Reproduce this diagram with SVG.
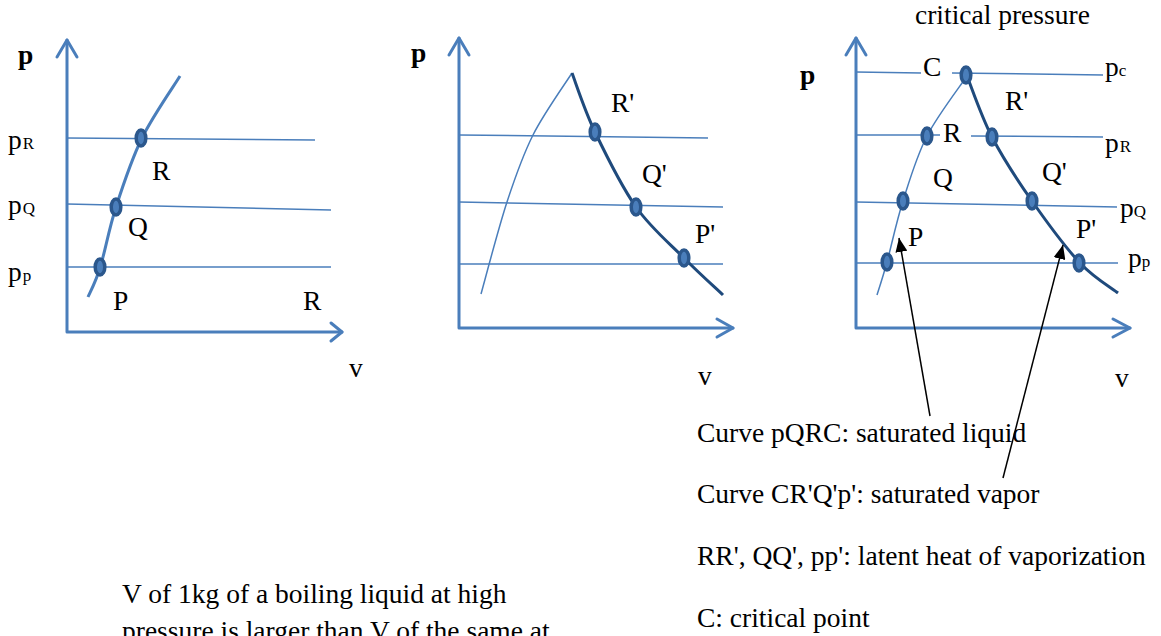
<svg xmlns="http://www.w3.org/2000/svg" width="1161" height="636" viewBox="0 0 1161 636">
<defs>
<style>
text{font-family:"Liberation Serif","Times New Roman",serif;font-size:27.5px;fill:#000}
.b{font-weight:bold}
.sub{font-size:17px}
.axis{fill:none;stroke:#4A7EBB;stroke-width:3;stroke-linecap:round;stroke-linejoin:round}
.iso{fill:none;stroke:#4A7EBB;stroke-width:1.5}
.liq{fill:none;stroke:#4A7EBB;stroke-width:1.5}
.liq1{fill:none;stroke:#4A7EBB;stroke-width:3}
.vap{fill:none;stroke:#1F4A7C;stroke-width:3}
.dot{fill:#4A7EBB;stroke:#2B578C;stroke-width:3.5}
.arr{fill:none;stroke:#000;stroke-width:1.5}
</style>
<marker id="ah" viewBox="0 0 14 12" refX="14" refY="6" markerWidth="14" markerHeight="12" markerUnits="userSpaceOnUse" orient="auto">
<path d="M0,0 L14,6 L0,12 z" fill="#000"/>
</marker>
</defs>
<rect width="1161" height="636" fill="#fff"/>

<g id="panel1">
<polyline class="axis" points="67,40 67,332 342,332"/>
<polyline class="axis" points="57,57 67,40 77,57"/>
<polyline class="axis" points="331,323 342,332 331,341"/>
<line class="iso" x1="67" y1="138" x2="315" y2="140"/>
<line class="iso" x1="67" y1="204" x2="331" y2="210"/>
<line class="iso" x1="67" y1="267" x2="331" y2="267"/>
<path class="liq1" d="M88,297 C90,292.2 95.3,283 100,268 C104.7,253 109,228.7 116,207 C123,185.3 131.3,159.8 142,138 C152.7,116.2 173.7,86.3 180,76"/>
<ellipse class="dot" cx="100" cy="267" rx="4.8" ry="8"/>
<ellipse class="dot" cx="116" cy="207" rx="4.8" ry="8"/>
<ellipse class="dot" cx="141" cy="138" rx="4.8" ry="8"/>
<text class="b" x="18" y="64">p</text>
<text x="8" y="149">p<tspan class="sub" dx="1">R</tspan></text>
<text x="8" y="214">p<tspan class="sub" dx="1">Q</tspan></text>
<text x="8" y="281">p<tspan class="sub" dx="1">p</tspan></text>
<text x="152" y="180">R</text>
<text x="128" y="236">Q</text>
<text x="113" y="310">P</text>
<text x="303" y="310">R</text>
<text x="349" y="377">v</text>
</g>

<g id="panel2">
<polyline class="axis" points="459,38 459,328 733,328"/>
<polyline class="axis" points="449,55 459,38 469,55"/>
<polyline class="axis" points="717,319 733,328 717,337"/>
<line class="iso" x1="459" y1="135" x2="708" y2="138"/>
<line class="iso" x1="459" y1="202" x2="723" y2="207"/>
<line class="iso" x1="459" y1="264" x2="723" y2="264"/>
<path class="liq" d="M481,294 C485.3,278.7 498.3,228.5 507,202 C515.7,175.5 522.2,156.5 533,135 C543.8,113.5 565.5,83.3 572,73"/>
<path class="vap" d="M572,73 C575.8,82.8 584.3,109.7 595,132 C605.7,154.3 621.2,186 636,207 C650.8,228 669.5,243.3 684,258 C698.5,272.7 716.5,288.8 723,295"/>
<ellipse class="dot" cx="595" cy="132" rx="4.8" ry="8"/>
<ellipse class="dot" cx="636" cy="207" rx="4.8" ry="8"/>
<ellipse class="dot" cx="684" cy="258" rx="4.8" ry="8"/>
<text class="b" x="411" y="62">p</text>
<text x="611" y="112">R'</text>
<text x="642" y="183">Q'</text>
<text x="695" y="243">P'</text>
<text x="698" y="385">v</text>
</g>

<g id="panel3">
<polyline class="axis" points="856,38 856,328 1130,328"/>
<polyline class="axis" points="846,55 856,38 866,55"/>
<polyline class="axis" points="1113,319 1130,328 1113,337"/>
<line class="iso" x1="856" y1="72" x2="921" y2="73"/>
<line class="iso" x1="952" y1="73" x2="1103" y2="75"/>
<line class="iso" x1="856" y1="135" x2="940" y2="135"/>
<line class="iso" x1="971" y1="136" x2="1103" y2="137"/>
<line class="iso" x1="856" y1="202" x2="1117" y2="207"/>
<line class="iso" x1="856" y1="263" x2="1118" y2="263"/>
<path class="liq" d="M877,295 C878.7,289.5 882.7,277.7 887,262 C891.3,246.3 896.3,222 903,201 C909.7,180 916.3,156.8 927,136 C937.7,115.2 960.3,86 967,76"/>
<path class="vap" d="M967,76 C971.2,86.2 981.2,116.2 992,137 C1002.8,157.8 1017.3,180 1032,201 C1046.7,222 1065.7,247.7 1080,263 C1094.3,278.3 1111.7,288 1118,293"/>
<ellipse class="dot" cx="966" cy="75" rx="4.8" ry="8"/>
<ellipse class="dot" cx="927" cy="136" rx="4.8" ry="8"/>
<ellipse class="dot" cx="992" cy="137" rx="4.8" ry="8"/>
<ellipse class="dot" cx="903" cy="201" rx="4.8" ry="8"/>
<ellipse class="dot" cx="1032" cy="201" rx="4.8" ry="8"/>
<ellipse class="dot" cx="887" cy="262" rx="4.8" ry="8"/>
<ellipse class="dot" cx="1079" cy="263" rx="4.8" ry="8"/>
<text x="915" y="24">critical pressure</text>
<text class="b" x="800" y="84">p</text>
<text x="923" y="76">C</text>
<text x="1105" y="76">p<tspan class="sub" dx="0">c</tspan></text>
<text x="1005" y="110">R'</text>
<text x="943" y="142">R</text>
<text x="1105" y="152">p<tspan class="sub" dx="1">R</tspan></text>
<text x="933" y="187">Q</text>
<text x="1042" y="181">Q'</text>
<text x="1120" y="217">p<tspan class="sub" dx="0">Q</tspan></text>
<text x="908" y="246">P</text>
<text x="1076" y="238">P'</text>
<text x="1128" y="267">p<tspan class="sub" dx="0">p</tspan></text>
<text x="1115" y="387">v</text>
</g>

<g id="connectors">
<line class="arr" x1="930" y1="416" x2="899" y2="238" marker-end="url(#ah)"/>
<line class="arr" x1="1003" y1="478" x2="1063" y2="245" marker-end="url(#ah)"/>
</g>

<g id="notes">
<text x="697" y="442">Curve pQRC: saturated liquid</text>
<text x="697" y="503">Curve CR'Q'p': saturated vapor</text>
<text x="697" y="565">RR', QQ', pp': latent heat of vaporization</text>
<text x="697" y="627">C: critical point</text>
<text x="122" y="603">V of 1kg of a boiling liquid at high</text>
<text x="122" y="640">pressure is larger than V of the same at</text>
</g>
</svg>
